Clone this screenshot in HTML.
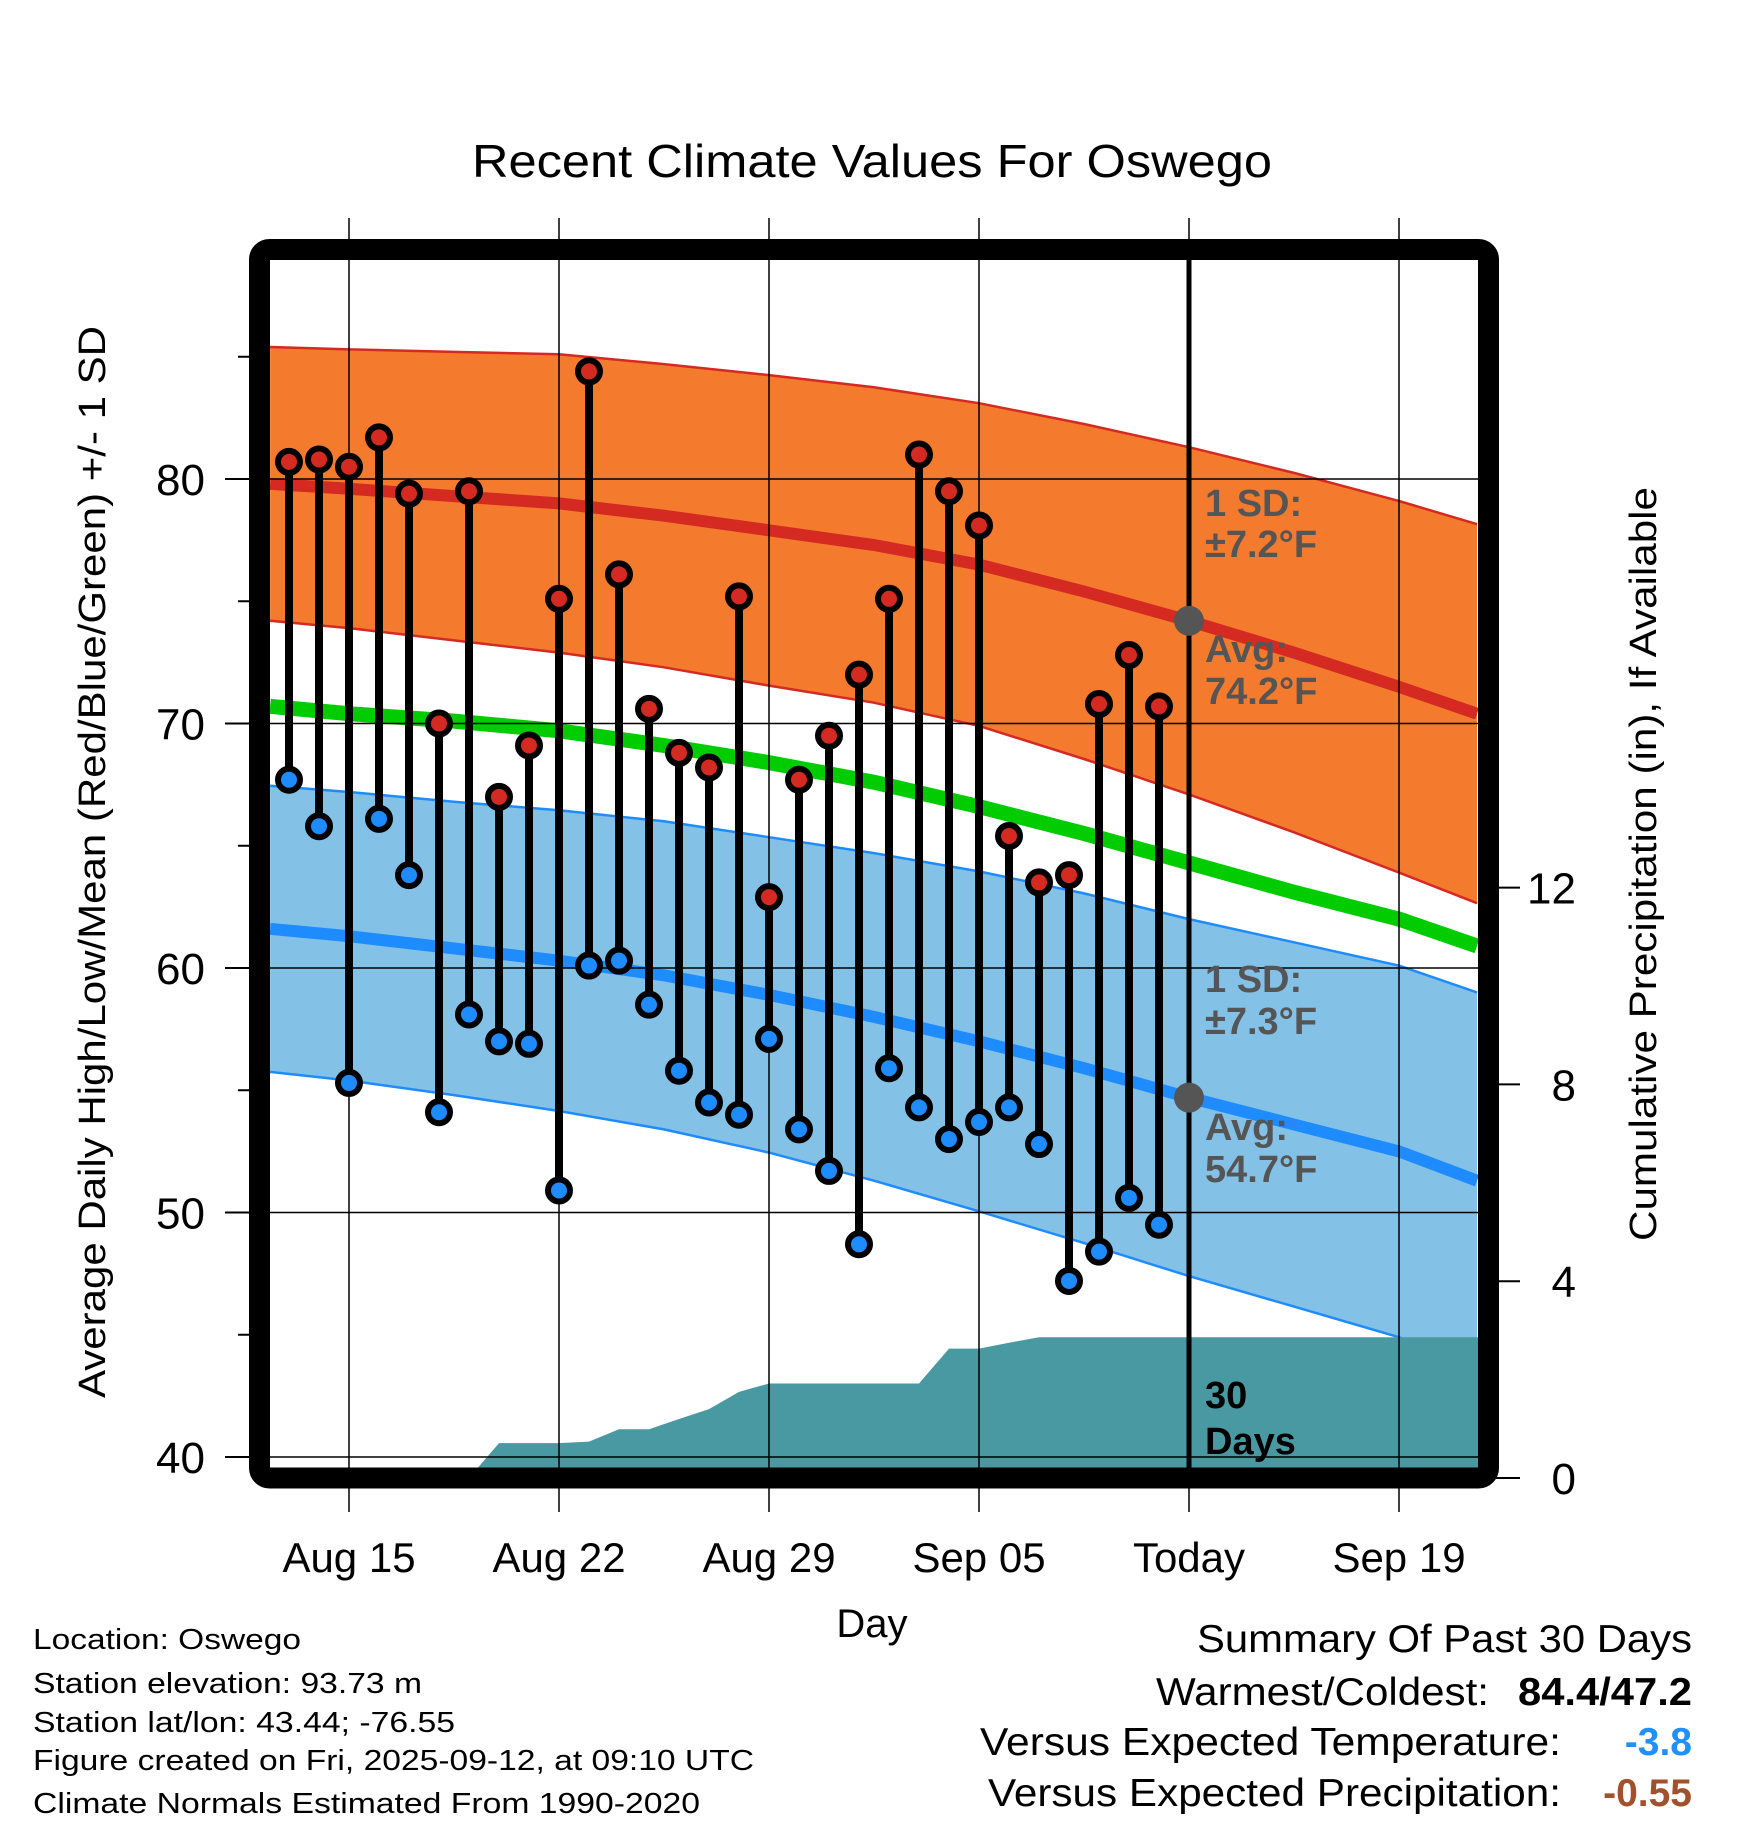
<!DOCTYPE html>
<html><head><meta charset="utf-8"><style>
html,body{margin:0;padding:0;background:#fff;}
svg{display:block;font-family:"Liberation Sans",Arial,sans-serif;}
</style></head><body>
<svg id="chart" width="1748" height="1828" viewBox="0 0 1748 1828" xmlns="http://www.w3.org/2000/svg">
<defs><clipPath id="plotclip"><rect x="270" y="260" width="1208" height="1208"/></clipPath></defs>
<g id="plot" clip-path="url(#plotclip)"></g>
<g id="over"></g>
<rect x="259.5" y="249.5" width="1229" height="1228.5" rx="10" fill="none" stroke="#000" stroke-width="21"/>
<text x="872" y="177" font-size="46" text-anchor="middle" textLength="800" lengthAdjust="spacingAndGlyphs">Recent Climate Values For Oswego</text>
<text transform="translate(105,862) rotate(-90)" font-size="38" text-anchor="middle" textLength="1072" lengthAdjust="spacingAndGlyphs">Average Daily High/Low/Mean (Red/Blue/Green) +/- 1 SD</text>
<text transform="translate(1656,864) rotate(-90)" font-size="38" text-anchor="middle" textLength="754" lengthAdjust="spacingAndGlyphs">Cumulative Precipitation (in), If Available</text>
<text x="872" y="1637" font-size="40" text-anchor="middle">Day</text>
<g font-size="29">
<text x="33" y="1649" textLength="268" lengthAdjust="spacingAndGlyphs">Location: Oswego</text>
<text x="33" y="1693" textLength="389" lengthAdjust="spacingAndGlyphs">Station elevation: 93.73 m</text>
<text x="33" y="1732" textLength="422" lengthAdjust="spacingAndGlyphs">Station lat/lon: 43.44; -76.55</text>
<text x="33" y="1770" textLength="721" lengthAdjust="spacingAndGlyphs">Figure created on Fri, 2025-09-12, at 09:10 UTC</text>
<text x="33" y="1813" textLength="667" lengthAdjust="spacingAndGlyphs">Climate Normals Estimated From 1990-2020</text>
</g>
<g font-size="39">
<text x="1692" y="1652" text-anchor="end" textLength="495" lengthAdjust="spacingAndGlyphs">Summary Of Past 30 Days</text>
<text x="1489" y="1705" text-anchor="end" textLength="333" lengthAdjust="spacingAndGlyphs">Warmest/Coldest:</text>
<text x="1692" y="1705" text-anchor="end" font-weight="bold" textLength="174" lengthAdjust="spacingAndGlyphs">84.4/47.2</text>
<text x="1561" y="1755" text-anchor="end" textLength="581" lengthAdjust="spacingAndGlyphs">Versus Expected Temperature:</text>
<text x="1692" y="1755" text-anchor="end" font-weight="bold" fill="#1E90FF">-3.8</text>
<text x="1561" y="1806" text-anchor="end" textLength="573" lengthAdjust="spacingAndGlyphs">Versus Expected Precipitation:</text>
<text x="1692" y="1806" text-anchor="end" font-weight="bold" fill="#A0522D">-0.55</text>
</g>
</svg>
<script>
// Observed data: Aug 13 .. Sep 11 (day number: Aug day, Sep n = 31+n)
const obsDays = [13,14,15,16,17,18,19,20,21,22,23,24,25,26,27,28,29,30,31,32,33,34,35,36,37,38,39,40,41,42];
const highs = [80.7,80.8,80.5,81.7,79.4,70.0,79.5,67.0,69.1,75.1,84.4,76.1,70.6,68.8,68.2,75.2,62.9,67.7,69.5,72.0,75.1,81.0,79.5,78.1,65.4,63.5,63.8,70.8,72.8,70.7];
const lows = [67.7,65.8,55.3,66.1,63.8,54.1,58.1,57.0,56.9,50.9,60.1,60.3,58.5,55.8,54.5,54.0,57.1,53.4,51.7,48.7,55.9,54.3,53.0,53.7,54.3,52.8,47.2,48.4,50.6,49.5];
const precip = [0,0,0,0,0,0,0,0.71,0.71,0.71,0.74,0.99,0.99,1.2,1.4,1.75,1.92,1.92,1.92,1.92,1.92,1.92,2.63,2.63,2.75,2.86,2.86,2.86,2.86,2.86];
// Climate normals
const normDays = [12.37,15,18.5,22,25.5,29,32.5,36,39.5,43,46.5,50,52.6];
const normHigh = [79.8,79.6,79.3,79.0,78.5,77.9,77.3,76.5,75.4,74.2,72.9,71.5,70.4];
const sdHigh = [5.6,5.7,5.9,6.1,6.2,6.35,6.45,6.6,6.85,7.1,7.35,7.6,7.75];
const normLow = [61.6,61.3,60.8,60.3,59.7,58.9,58.0,57.0,55.9,54.7,53.6,52.5,51.3];
const sdLow = [5.85,5.9,6.0,6.15,6.3,6.45,6.7,6.95,7.15,7.3,7.45,7.6,7.7];
const normMean = [70.7,70.4,70.1,69.7,69.1,68.4,67.6,66.6,65.5,64.3,63.1,62.0,60.9];
// Axes
const xTickDays = [15,22,29,36,43,50];
const xTickLabels = ["Aug 15","Aug 22","Aug 29","Sep 05","Today","Sep 19"];
const yTicks = [40,50,60,70,80];
const yMinor = [45,55,65,75,85];
const y2Ticks = [0,4,8,12];
const todayDay = 43;
const sdHighLabel = 7.2;
const sdLowLabel = 7.3;

const X = d => 349 + (d - 15) * 30;
const Y = v => 479 + (80 - v) * 24.45;
const Y2 = p => 1478 - p * 49.2;
const NS = "http://www.w3.org/2000/svg";
const plot = document.getElementById('plot');
const over = document.getElementById('over');
function mk(tag, attrs, parent){const e=document.createElementNS(NS,tag);for(const k in attrs)e.setAttribute(k,attrs[k]);(parent||plot).appendChild(e);return e;}
function pts(days, vals){return days.map((d,i)=>X(d).toFixed(1)+','+Y(vals[i]).toFixed(1));}

function band(center, sd, fill, edge, name){
  const up = center.map((c,i)=>c+sd[i]), dn = center.map((c,i)=>c-sd[i]);
  const p = pts(normDays, up).concat(pts(normDays, dn).reverse());
  let e = mk('polygon',{points:p.join(' '),fill:fill});
  
  
  e = mk('polyline',{points:pts(normDays,up).join(' '),fill:'none',stroke:edge,'stroke-width':2.5});
  
  
  e = mk('polyline',{points:pts(normDays,dn).join(' '),fill:'none',stroke:edge,'stroke-width':2.5});
  
  
}
band(normHigh, sdHigh, '#F47A2E', '#D42A22', 'high');
band(normLow, sdLow, '#84C1E7', '#1E8CFF', 'low');

{
  const p = [X(normDays[0])+','+Y2(0)];
  obsDays.forEach((d,i)=>p.push(X(d)+','+Y2(precip[i]).toFixed(1)));
  p.push('1480,'+Y2(precip[precip.length-1]).toFixed(1));
  p.push('1480,1480'); p.push('268,1480');
  const e = mk('polygon',{points:p.join(' '),fill:'#4899A2'});
  
  
}

function nline(vals,color,w,name){
  const e = mk('polyline',{points:pts(normDays,vals).join(' '),fill:'none',stroke:color,'stroke-width':w});
  
  
}
nline(normHigh,'#D42A22',12,'normal-high-line');
nline(normLow,'#1E8CFF',12,'normal-low-line');
nline(normMean,'#00CC00',15,'normal-mean-line');

yTicks.forEach(v=>{
  const e = mk('line',{x1:265,x2:1485,y1:Y(v),y2:Y(v),stroke:'#000','stroke-width':1.5});
  
  
});
xTickDays.forEach((d,i)=>{
  const e = mk('line',{x1:X(d),x2:X(d),y1:218,y2:1512,stroke:'#000','stroke-width':1.5},over);
  
  
  const t = mk('text',{x:X(d),y:1572,'font-size':42,'text-anchor':'middle'},over);
  t.textContent = xTickLabels[i];
  
  
});
{
  const e = mk('line',{x1:X(todayDay),x2:X(todayDay),y1:260,y2:1468,stroke:'#000','stroke-width':5},over);
  
  
}
yTicks.forEach(v=>{
  const e = mk('line',{x1:225,x2:252,y1:Y(v),y2:Y(v),stroke:'#000','stroke-width':2},over);
  
  
  const t = mk('text',{x:205,y:Y(v)+16,'font-size':44,'text-anchor':'end'},over);
  t.textContent = v;
  
  
});
yMinor.forEach(v=>{
  const e = mk('line',{x1:238,x2:252,y1:Y(v),y2:Y(v),stroke:'#000','stroke-width':2},over);
  
  
});
y2Ticks.forEach(p=>{
  const e = mk('line',{x1:1496,x2:1520,y1:Y2(p),y2:Y2(p),stroke:'#000','stroke-width':2},over);
  
  
  const t = mk('text',{x:1576,y:Y2(p)+16,'font-size':44,'text-anchor':'end'},over);
  t.textContent = p;
  
  
});

obsDays.forEach((d,i)=>{
  const e = mk('line',{x1:X(d),x2:X(d),y1:Y(highs[i]),y2:Y(lows[i]),stroke:'#000','stroke-width':8},over);
  
  
});
obsDays.forEach((d,i)=>{
  const h = mk('circle',{cx:X(d),cy:Y(highs[i]),r:11,fill:'#D42A22',stroke:'#000','stroke-width':6},over);
  
  
  const l = mk('circle',{cx:X(d),cy:Y(lows[i]),r:11,fill:'#1E8CFF',stroke:'#000','stroke-width':6},over);
  
  
});
const ti = normDays.indexOf(todayDay);
[[normHigh[ti],'today-high-marker'],[normLow[ti],'today-low-marker']].forEach(a=>{
  const c = mk('circle',{cx:X(todayDay),cy:Y(a[0]),r:15,fill:'#555'},over);
  
  
});
function ann(txt,y,color,name){
  const t = mk('text',{x:1205,y:y,'font-size':38,'font-weight':'bold',fill:color},over);
  t.textContent = txt;
  
  
}
ann('1 SD:',516,'#555','high-sd-label');
ann('\u00B1'+sdHighLabel.toFixed(1)+'\u00B0F',557,'#555','high-sd-value');
ann('Avg:',662,'#555','high-avg-label');
ann(normHigh[ti].toFixed(1)+'\u00B0F',704,'#555','high-avg-value');
ann('1 SD:',992,'#555','low-sd-label');
ann('\u00B1'+sdLowLabel.toFixed(1)+'\u00B0F',1034,'#555','low-sd-value');
ann('Avg:',1140,'#555','low-avg-label');
ann(normLow[ti].toFixed(1)+'\u00B0F',1182,'#555','low-avg-value');
ann('30',1408,'#000','days-count');
ann('Days',1454,'#000','days-label');
</script>
</body></html>
